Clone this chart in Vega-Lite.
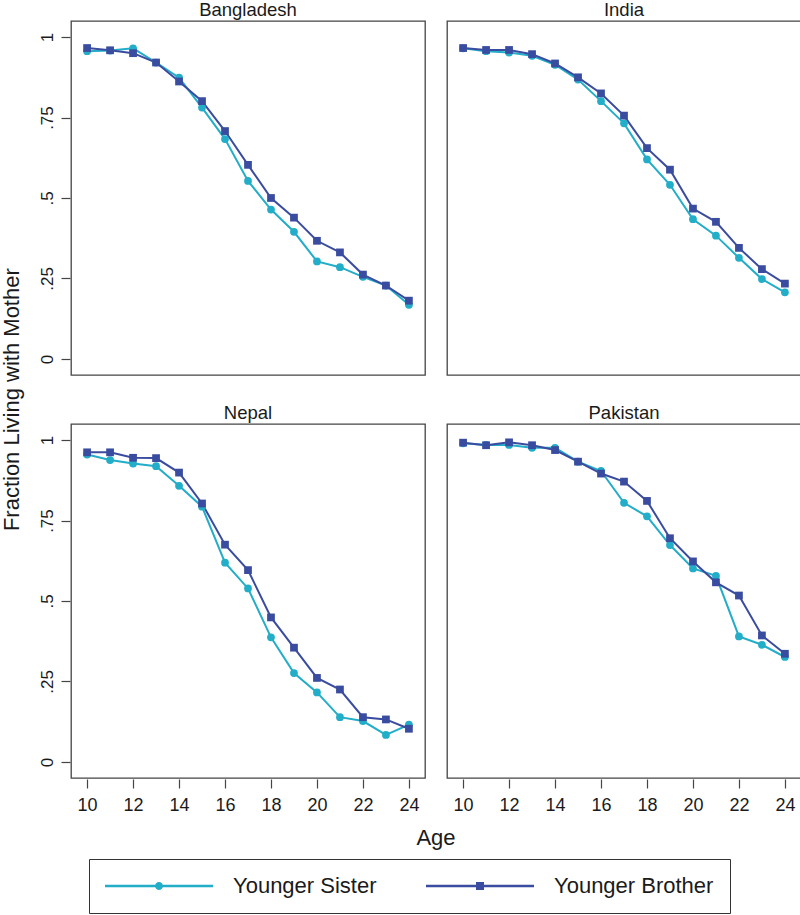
{
  "$schema": "https://vega.github.io/schema/vega-lite/v6.json",
  "padding": {"left": 0, "top": -1, "right": 1, "bottom": 1},
  "background": "white",
  "title": {"text": "Fraction Living with Mother", "orient": "left", "anchor": "middle", "fontSize": 22, "font": "Liberation Sans", "fontWeight": "normal", "color": "#1a1a1a", "offset": 14, "dx": 57},
  "data": {"values": [
    {"country": "Bangladesh", "sibling": "Younger Sister", "age": 10, "frac": 0.956},
    {"country": "Bangladesh", "sibling": "Younger Sister", "age": 11, "frac": 0.958},
    {"country": "Bangladesh", "sibling": "Younger Sister", "age": 12, "frac": 0.965},
    {"country": "Bangladesh", "sibling": "Younger Sister", "age": 13, "frac": 0.921},
    {"country": "Bangladesh", "sibling": "Younger Sister", "age": 14, "frac": 0.874},
    {"country": "Bangladesh", "sibling": "Younger Sister", "age": 15, "frac": 0.781},
    {"country": "Bangladesh", "sibling": "Younger Sister", "age": 16, "frac": 0.683},
    {"country": "Bangladesh", "sibling": "Younger Sister", "age": 17, "frac": 0.553},
    {"country": "Bangladesh", "sibling": "Younger Sister", "age": 18, "frac": 0.464},
    {"country": "Bangladesh", "sibling": "Younger Sister", "age": 19, "frac": 0.395},
    {"country": "Bangladesh", "sibling": "Younger Sister", "age": 20, "frac": 0.303},
    {"country": "Bangladesh", "sibling": "Younger Sister", "age": 21, "frac": 0.285},
    {"country": "Bangladesh", "sibling": "Younger Sister", "age": 22, "frac": 0.255},
    {"country": "Bangladesh", "sibling": "Younger Sister", "age": 23, "frac": 0.228},
    {"country": "Bangladesh", "sibling": "Younger Sister", "age": 24, "frac": 0.168},
    {"country": "Bangladesh", "sibling": "Younger Brother", "age": 10, "frac": 0.966},
    {"country": "Bangladesh", "sibling": "Younger Brother", "age": 11, "frac": 0.959},
    {"country": "Bangladesh", "sibling": "Younger Brother", "age": 12, "frac": 0.950},
    {"country": "Bangladesh", "sibling": "Younger Brother", "age": 13, "frac": 0.921},
    {"country": "Bangladesh", "sibling": "Younger Brother", "age": 14, "frac": 0.862},
    {"country": "Bangladesh", "sibling": "Younger Brother", "age": 15, "frac": 0.801},
    {"country": "Bangladesh", "sibling": "Younger Brother", "age": 16, "frac": 0.708},
    {"country": "Bangladesh", "sibling": "Younger Brother", "age": 17, "frac": 0.603},
    {"country": "Bangladesh", "sibling": "Younger Brother", "age": 18, "frac": 0.500},
    {"country": "Bangladesh", "sibling": "Younger Brother", "age": 19, "frac": 0.439},
    {"country": "Bangladesh", "sibling": "Younger Brother", "age": 20, "frac": 0.367},
    {"country": "Bangladesh", "sibling": "Younger Brother", "age": 21, "frac": 0.331},
    {"country": "Bangladesh", "sibling": "Younger Brother", "age": 22, "frac": 0.262},
    {"country": "Bangladesh", "sibling": "Younger Brother", "age": 23, "frac": 0.228},
    {"country": "Bangladesh", "sibling": "Younger Brother", "age": 24, "frac": 0.181},
    {"country": "India", "sibling": "Younger Sister", "age": 10, "frac": 0.965},
    {"country": "India", "sibling": "Younger Sister", "age": 11, "frac": 0.956},
    {"country": "India", "sibling": "Younger Sister", "age": 12, "frac": 0.952},
    {"country": "India", "sibling": "Younger Sister", "age": 13, "frac": 0.942},
    {"country": "India", "sibling": "Younger Sister", "age": 14, "frac": 0.914},
    {"country": "India", "sibling": "Younger Sister", "age": 15, "frac": 0.868},
    {"country": "India", "sibling": "Younger Sister", "age": 16, "frac": 0.801},
    {"country": "India", "sibling": "Younger Sister", "age": 17, "frac": 0.732},
    {"country": "India", "sibling": "Younger Sister", "age": 18, "frac": 0.620},
    {"country": "India", "sibling": "Younger Sister", "age": 19, "frac": 0.541},
    {"country": "India", "sibling": "Younger Sister", "age": 20, "frac": 0.434},
    {"country": "India", "sibling": "Younger Sister", "age": 21, "frac": 0.383},
    {"country": "India", "sibling": "Younger Sister", "age": 22, "frac": 0.314},
    {"country": "India", "sibling": "Younger Sister", "age": 23, "frac": 0.248},
    {"country": "India", "sibling": "Younger Sister", "age": 24, "frac": 0.207},
    {"country": "India", "sibling": "Younger Brother", "age": 10, "frac": 0.966},
    {"country": "India", "sibling": "Younger Brother", "age": 11, "frac": 0.960},
    {"country": "India", "sibling": "Younger Brother", "age": 12, "frac": 0.960},
    {"country": "India", "sibling": "Younger Brother", "age": 13, "frac": 0.947},
    {"country": "India", "sibling": "Younger Brother", "age": 14, "frac": 0.918},
    {"country": "India", "sibling": "Younger Brother", "age": 15, "frac": 0.875},
    {"country": "India", "sibling": "Younger Brother", "age": 16, "frac": 0.825},
    {"country": "India", "sibling": "Younger Brother", "age": 17, "frac": 0.756},
    {"country": "India", "sibling": "Younger Brother", "age": 18, "frac": 0.655},
    {"country": "India", "sibling": "Younger Brother", "age": 19, "frac": 0.588},
    {"country": "India", "sibling": "Younger Brother", "age": 20, "frac": 0.467},
    {"country": "India", "sibling": "Younger Brother", "age": 21, "frac": 0.426},
    {"country": "India", "sibling": "Younger Brother", "age": 22, "frac": 0.345},
    {"country": "India", "sibling": "Younger Brother", "age": 23, "frac": 0.279},
    {"country": "India", "sibling": "Younger Brother", "age": 24, "frac": 0.234},
    {"country": "Nepal", "sibling": "Younger Sister", "age": 10, "frac": 0.955},
    {"country": "Nepal", "sibling": "Younger Sister", "age": 11, "frac": 0.938},
    {"country": "Nepal", "sibling": "Younger Sister", "age": 12, "frac": 0.927},
    {"country": "Nepal", "sibling": "Younger Sister", "age": 13, "frac": 0.919},
    {"country": "Nepal", "sibling": "Younger Sister", "age": 14, "frac": 0.858},
    {"country": "Nepal", "sibling": "Younger Sister", "age": 15, "frac": 0.793},
    {"country": "Nepal", "sibling": "Younger Sister", "age": 16, "frac": 0.619},
    {"country": "Nepal", "sibling": "Younger Sister", "age": 17, "frac": 0.539},
    {"country": "Nepal", "sibling": "Younger Sister", "age": 18, "frac": 0.387},
    {"country": "Nepal", "sibling": "Younger Sister", "age": 19, "frac": 0.276},
    {"country": "Nepal", "sibling": "Younger Sister", "age": 20, "frac": 0.216},
    {"country": "Nepal", "sibling": "Younger Sister", "age": 21, "frac": 0.139},
    {"country": "Nepal", "sibling": "Younger Sister", "age": 22, "frac": 0.127},
    {"country": "Nepal", "sibling": "Younger Sister", "age": 23, "frac": 0.084},
    {"country": "Nepal", "sibling": "Younger Sister", "age": 24, "frac": 0.116},
    {"country": "Nepal", "sibling": "Younger Brother", "age": 10, "frac": 0.962},
    {"country": "Nepal", "sibling": "Younger Brother", "age": 11, "frac": 0.962},
    {"country": "Nepal", "sibling": "Younger Brother", "age": 12, "frac": 0.945},
    {"country": "Nepal", "sibling": "Younger Brother", "age": 13, "frac": 0.944},
    {"country": "Nepal", "sibling": "Younger Brother", "age": 14, "frac": 0.899},
    {"country": "Nepal", "sibling": "Younger Brother", "age": 15, "frac": 0.803},
    {"country": "Nepal", "sibling": "Younger Brother", "age": 16, "frac": 0.675},
    {"country": "Nepal", "sibling": "Younger Brother", "age": 17, "frac": 0.596},
    {"country": "Nepal", "sibling": "Younger Brother", "age": 18, "frac": 0.449},
    {"country": "Nepal", "sibling": "Younger Brother", "age": 19, "frac": 0.355},
    {"country": "Nepal", "sibling": "Younger Brother", "age": 20, "frac": 0.261},
    {"country": "Nepal", "sibling": "Younger Brother", "age": 21, "frac": 0.225},
    {"country": "Nepal", "sibling": "Younger Brother", "age": 22, "frac": 0.139},
    {"country": "Nepal", "sibling": "Younger Brother", "age": 23, "frac": 0.132},
    {"country": "Nepal", "sibling": "Younger Brother", "age": 24, "frac": 0.103},
    {"country": "Pakistan", "sibling": "Younger Sister", "age": 10, "frac": 0.990},
    {"country": "Pakistan", "sibling": "Younger Sister", "age": 11, "frac": 0.985},
    {"country": "Pakistan", "sibling": "Younger Sister", "age": 12, "frac": 0.985},
    {"country": "Pakistan", "sibling": "Younger Sister", "age": 13, "frac": 0.976},
    {"country": "Pakistan", "sibling": "Younger Sister", "age": 14, "frac": 0.976},
    {"country": "Pakistan", "sibling": "Younger Sister", "age": 15, "frac": 0.933},
    {"country": "Pakistan", "sibling": "Younger Sister", "age": 16, "frac": 0.904},
    {"country": "Pakistan", "sibling": "Younger Sister", "age": 17, "frac": 0.805},
    {"country": "Pakistan", "sibling": "Younger Sister", "age": 18, "frac": 0.763},
    {"country": "Pakistan", "sibling": "Younger Sister", "age": 19, "frac": 0.674},
    {"country": "Pakistan", "sibling": "Younger Sister", "age": 20, "frac": 0.601},
    {"country": "Pakistan", "sibling": "Younger Sister", "age": 21, "frac": 0.578},
    {"country": "Pakistan", "sibling": "Younger Sister", "age": 22, "frac": 0.390},
    {"country": "Pakistan", "sibling": "Younger Sister", "age": 23, "frac": 0.364},
    {"country": "Pakistan", "sibling": "Younger Sister", "age": 24, "frac": 0.326},
    {"country": "Pakistan", "sibling": "Younger Brother", "age": 10, "frac": 0.992},
    {"country": "Pakistan", "sibling": "Younger Brother", "age": 11, "frac": 0.984},
    {"country": "Pakistan", "sibling": "Younger Brother", "age": 12, "frac": 0.993},
    {"country": "Pakistan", "sibling": "Younger Brother", "age": 13, "frac": 0.984},
    {"country": "Pakistan", "sibling": "Younger Brother", "age": 14, "frac": 0.969},
    {"country": "Pakistan", "sibling": "Younger Brother", "age": 15, "frac": 0.933},
    {"country": "Pakistan", "sibling": "Younger Brother", "age": 16, "frac": 0.896},
    {"country": "Pakistan", "sibling": "Younger Brother", "age": 17, "frac": 0.871},
    {"country": "Pakistan", "sibling": "Younger Brother", "age": 18, "frac": 0.811},
    {"country": "Pakistan", "sibling": "Younger Brother", "age": 19, "frac": 0.695},
    {"country": "Pakistan", "sibling": "Younger Brother", "age": 20, "frac": 0.623},
    {"country": "Pakistan", "sibling": "Younger Brother", "age": 21, "frac": 0.558},
    {"country": "Pakistan", "sibling": "Younger Brother", "age": 22, "frac": 0.517},
    {"country": "Pakistan", "sibling": "Younger Brother", "age": 23, "frac": 0.393},
    {"country": "Pakistan", "sibling": "Younger Brother", "age": 24, "frac": 0.336}
  ]},
  "facet": {
    "field": "country", "type": "nominal",
    "sort": ["Bangladesh", "India", "Nepal", "Pakistan"],
    "title": "Age",
    "header": {
      "titleOrient": "bottom", "titleFontSize": 22, "titleFont": "Liberation Sans", "titleFontWeight": "normal", "titleColor": "#1a1a1a", "titlePadding": 14,
      "labelFontSize": 18.5, "labelFont": "Liberation Sans", "labelColor": "#1a1a1a", "labelPadding": -13, "labelBaseline": "alphabetic"
    }
  },
  "columns": 2,
  "spacing": {"row": 26, "column": 20},
  "spec": {
    "width": 354,
    "height": 354,
    "encoding": {
      "x": {"field": "age", "type": "quantitative",
        "scale": {"domain": [9.3, 24.7], "nice": false, "zero": false},
        "axis": {"values": [10, 12, 14, 16, 18, 20, 22, 24], "title": null, "labelFontSize": 18, "labelPadding": 8}},
      "y": {"field": "frac", "type": "quantitative",
        "scale": {"domain": [-0.05, 1.05], "nice": false, "zero": false},
        "axis": {"values": [0, 0.25, 0.5, 0.75, 1], "title": null,
          "labelExpr": "datum.value == 0 ? '0' : datum.value == 1 ? '1' : replace(format(datum.value, '.2~f'), '0.', '.')",
          "labelAngle": -90, "labelAlign": "center", "labelBaseline": "alphabetic", "labelPadding": 9}},
      "color": {"field": "sibling", "type": "nominal",
        "scale": {"domain": ["Younger Sister", "Younger Brother"], "range": ["#22adc8", "#3a4c9f"]},
        "legend": {
          "orient": "none", "legendX": 18, "legendY": 838, "direction": "horizontal", "columns": 2, "title": null,
          "strokeColor": "#333", "padding": 16, "symbolOpacity": 1,
          "symbolSize": 11664, "clipHeight": 22, "labelOffset": 20, "columnPadding": 49,
          "labelFontSize": 22, "labelFont": "Liberation Sans", "labelColor": "#1a1a1a", "labelLimit": 400,
          "encode": {"symbols": {"update": {
            "fill": {"condition": {"test": "datum.value === 'Younger Sister'", "value": "#22adc8"}, "value": "#3a4c9f"},
            "stroke": {"value": "transparent"},
            "strokeWidth": {"value": 0},
            "opacity": {"value": 1}
          }}}
        }}
    },
    "layer": [
      {"mark": {"type": "point", "filled": true, "size": 0, "opacity": 1},
        "encoding": {"shape": {"field": "sibling", "type": "nominal",
          "scale": {"domain": ["Younger Sister", "Younger Brother"], "range": [
            "M-1,-0.024H1V0.024H-1Z M-0.074,0A0.074,0.074 0 1,1 0.074,0A0.074,0.074 0 1,1 -0.074,0Z",
            "M-1,-0.024H1V0.024H-1Z M-0.074,-0.074H0.074V0.074H-0.074Z"]}}}},
      {"mark": {"type": "line", "strokeWidth": 2}},
      {"transform": [{"filter": "datum.sibling === 'Younger Sister'"}],
        "mark": {"type": "point", "filled": true, "size": 60, "opacity": 1, "shape": "circle"}},
      {"transform": [{"filter": "datum.sibling === 'Younger Brother'"}],
        "mark": {"type": "point", "filled": true, "size": 60, "opacity": 1, "shape": "square"}}
    ]
  },
  "config": {
    "view": {"stroke": "#444", "strokeWidth": 1.3},
    "axis": {"grid": false, "domain": false, "tickSize": 9, "tickColor": "#444", "tickWidth": 1.2,
      "labelFontSize": 17, "labelFont": "Liberation Sans", "labelColor": "#1a1a1a", "labelPadding": 7}
  }
}
